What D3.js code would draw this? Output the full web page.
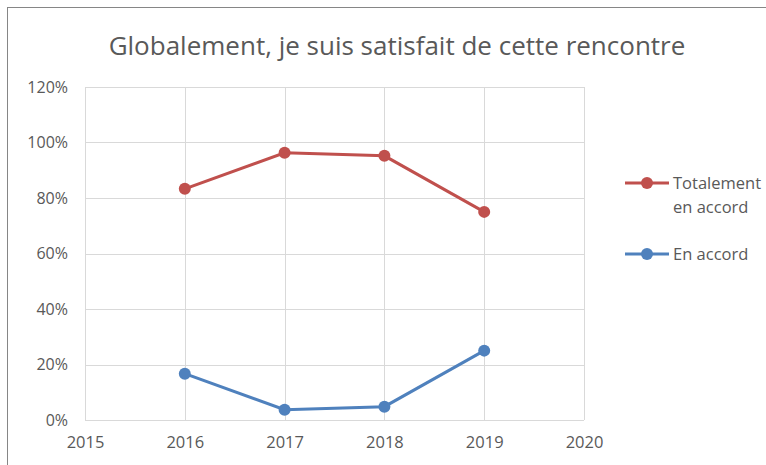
<!DOCTYPE html>
<html>
<head>
<meta charset="utf-8">
<script src="https://cdn.jsdelivr.net/npm/d3@7"></script>
<style>
  body { margin: 0; background: #fff; }
  text { font-family: "Open Sans", "Liberation Sans", sans-serif; fill: #595959; }
</style>
</head>
<body>
<div id="chart"></div>
<script>
var years = [2016, 2017, 2018, 2019];
var totalement = [0.833, 0.963, 0.952, 0.75];
var enAccord = [0.167, 0.037, 0.048, 0.25];
var seriesNames = ["Totalement en accord", "En accord"];
var seriesColors = ["#C0504D", "#4F81BD"];
var yTicks = [0, 0.2, 0.4, 0.6, 0.8, 1.0, 1.2];
var xTicks = [2015, 2016, 2017, 2018, 2019, 2020];

var svgWidth = 766, svgHeight = 465;
var margin = { top: 87, left: 85 };
var width = 499, height = 333;

var svg = d3.select("#chart").append("svg")
    .attr("width", svgWidth)
    .attr("height", svgHeight);

// chart frame
svg.append("rect")
    .attr("x", 7.5).attr("y", 7.5)
    .attr("width", 780).attr("height", 480)
    .attr("fill", "none")
    .attr("stroke", "#868686")
    .attr("stroke-width", 1);

svg.append("text")
    .attr("x", 397).attr("y", 55)
    .attr("text-anchor", "middle")
    .attr("font-size", "26px")
    .text("Globalement, je suis satisfait de cette rencontre");

var chartGroup = svg.append("g")
    .attr("transform", `translate(${margin.left}, ${margin.top})`);

var xScale = d3.scaleLinear().domain([2015, 2020]).range([0, width]);
var yScale = d3.scaleLinear().domain([0, 1.2]).range([height, 0]);

// gridlines
chartGroup.selectAll(".hgrid")
    .data(yTicks)
    .enter().append("line")
    .attr("x1", 0).attr("x2", width)
    .attr("y1", d => Math.round(yScale(d)) + 0.5)
    .attr("y2", d => Math.round(yScale(d)) + 0.5)
    .attr("stroke", "#D9D9D9");

chartGroup.selectAll(".vgrid")
    .data(xTicks)
    .enter().append("line")
    .attr("y1", 0).attr("y2", height)
    .attr("x1", d => Math.round(xScale(d)) + 0.5)
    .attr("x2", d => Math.round(xScale(d)) + 0.5)
    .attr("stroke", "#D9D9D9");

// axes
var yAxis = d3.axisLeft(yScale).tickValues(yTicks)
    .tickFormat(d3.format(".0%")).tickSize(0).tickPadding(17);
var xAxis = d3.axisBottom(xScale).tickValues(xTicks)
    .tickFormat(d3.format("d")).tickSize(0).tickPadding(16);

chartGroup.append("g").call(yAxis)
    .call(g => g.select(".domain").remove())
    .selectAll("text").attr("font-size", "16px").attr("fill", "#595959");

chartGroup.append("g")
    .attr("transform", `translate(0, ${height})`)
    .call(xAxis)
    .call(g => g.select(".domain").remove())
    .selectAll("text").attr("font-size", "16.5px").attr("fill", "#595959");

// series
var allSeries = [totalement, enAccord];
var line = d3.line()
    .x((d, i) => xScale(years[i]))
    .y(d => yScale(d));

allSeries.forEach(function(vals, s) {
    chartGroup.append("path")
        .datum(vals)
        .attr("d", line)
        .attr("fill", "none")
        .attr("stroke", seriesColors[s])
        .attr("stroke-width", 3);
    chartGroup.selectAll(".pt" + s)
        .data(vals)
        .enter().append("circle")
        .attr("cx", (d, i) => xScale(years[i]))
        .attr("cy", d => yScale(d))
        .attr("r", 6)
        .attr("fill", seriesColors[s]);
});

// legend
var legendY = [183, 254];
var legend = svg.append("g");
seriesNames.forEach(function(name, s) {
    var g = legend.append("g").attr("transform", `translate(625, ${legendY[s]})`);
    g.append("line").attr("x1", 0).attr("x2", 44)
        .attr("stroke", seriesColors[s]).attr("stroke-width", 3);
    g.append("circle").attr("cx", 22).attr("r", 6).attr("fill", seriesColors[s]);
    var t = g.append("text").attr("x", 48).attr("y", 6).attr("font-size", "16.5px");
    if (s === 0) {
        t.append("tspan").attr("x", 48).text("Totalement");
        t.append("tspan").attr("x", 48).attr("dy", 24).text("en accord");
    } else {
        t.text(name);
    }
});
</script>
</body>
</html>
